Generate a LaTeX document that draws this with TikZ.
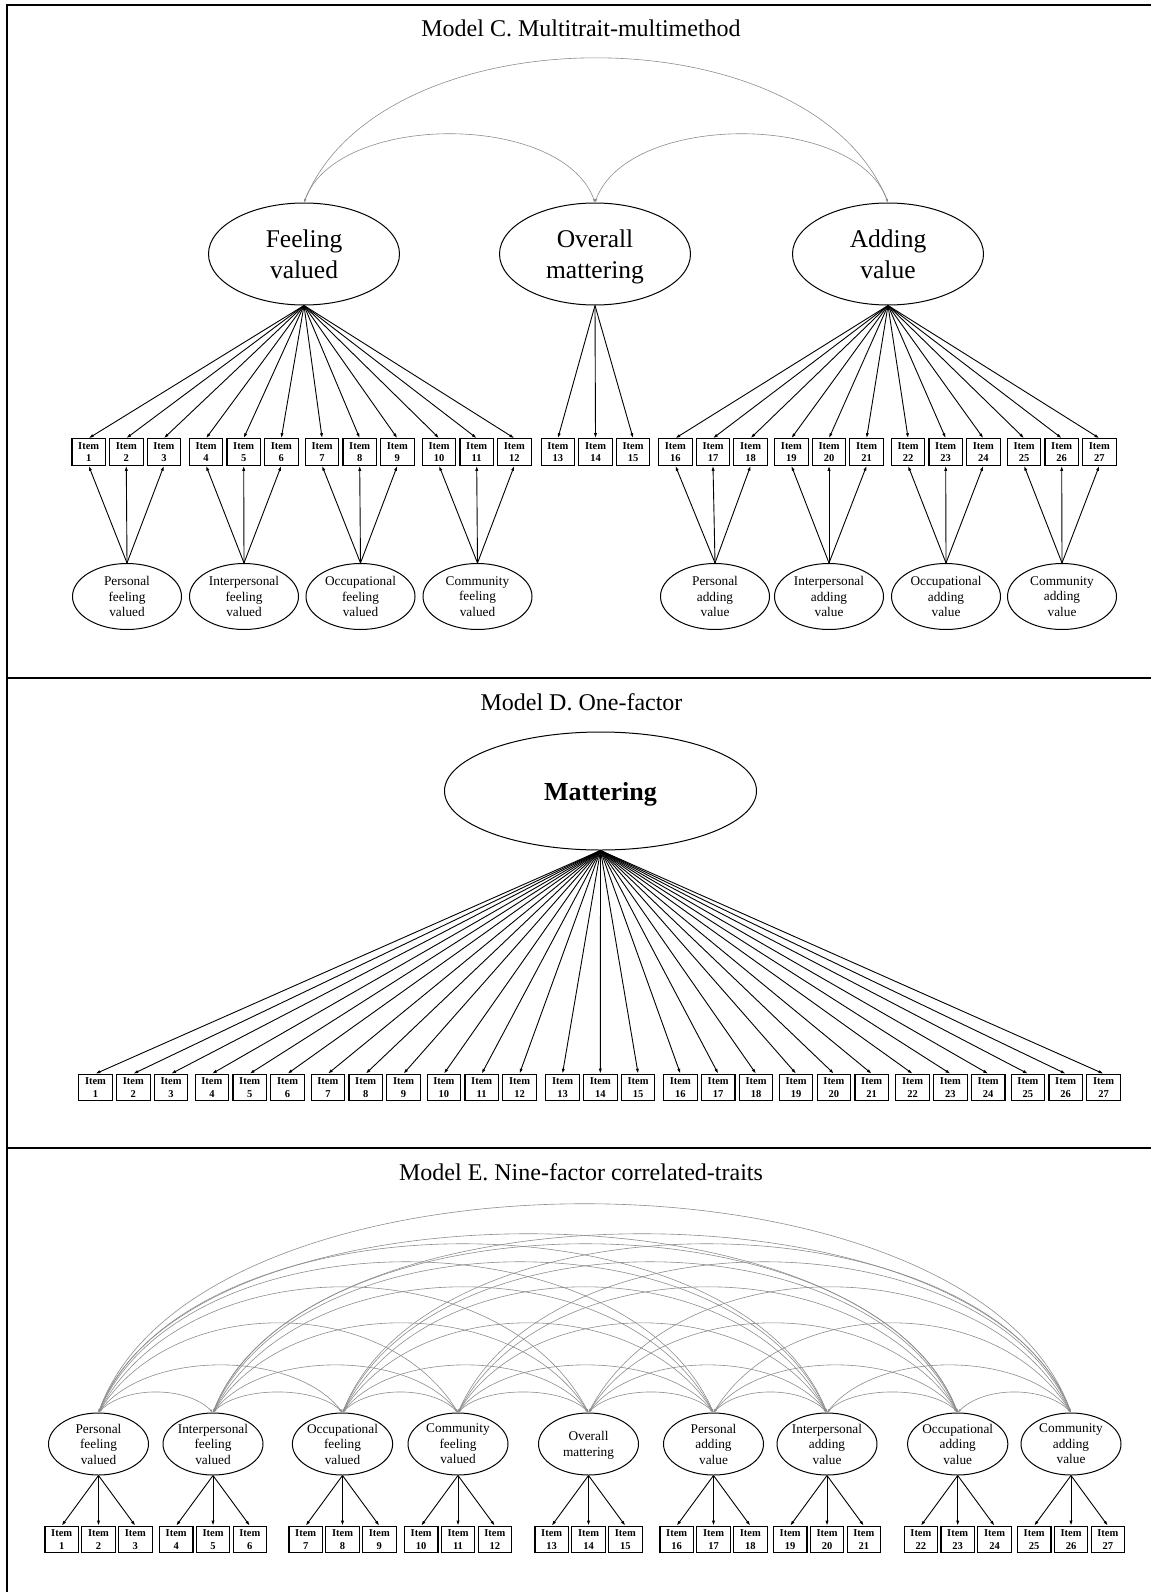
\documentclass[tikz,border=0pt]{standalone}
\usepackage{fontspec}
\setmainfont{Liberation Serif}
\usetikzlibrary{shapes.geometric,arrows.meta}
\definecolor{covgray}{RGB}{140,140,140}
\tikzset{
  itembox/.style={draw,line width=1.1pt,minimum width=33.5pt,minimum height=26.5pt,inner sep=0pt,align=center,font=\fontsize{10.5}{12.3}\selectfont\bfseries},
  latent/.style={draw,ellipse,line width=1pt,inner sep=0pt,align=center,text depth=0pt},
  bigfont/.style={font=\fontsize{25.5}{31}\selectfont},
  smallfont/.style={font=\fontsize{13.3}{15.5}\selectfont},
  load/.style={line width=0.9pt,-{Latex[length=5pt,width=3.2pt]}},
  cov/.style={line width=0.6pt,draw=covgray,{Latex[length=3.5pt,width=2.4pt]}-{Latex[length=3.5pt,width=2.4pt]}},
  frameline/.style={line width=2pt},
  ttl/.style={anchor=base,font=\fontsize{24}{28}\selectfont},
}
\begin{document}
\begin{tikzpicture}[x=1pt,y=-1pt]
\useasboundingbox (0,0) rectangle (1151,1592);
% frame
\draw[frameline] (6.7,1592) -- (6.7,5) -- (1151,5);
\draw[frameline] (6.7,677.7) -- (1151,677.7);
\draw[frameline] (6.7,1148.3) -- (1151,1148.3);

% ---------------- Model C ----------------
\node[ttl] (tC) at (581,36.5) {Model C. Multitrait-multimethod};
\node[latent,bigfont,minimum width=191pt,minimum height=102pt] (cFV) at (304,254) {Feeling\\valued};
\node[latent,bigfont,minimum width=191pt,minimum height=102pt] (cOM) at (595,254) {Overall\\mattering};
\node[latent,bigfont,minimum width=191pt,minimum height=102pt] (cAV) at (888,254) {Adding\\value};

\foreach \g/\gx in {0/126.3,1/243.7,2/359.7,3/476.7,4/595.5,5/713,6/829,7/945.7,8/1061.7}{
  \foreach \k in {0,1,2}{
    \pgfmathtruncatemacro\itn{3*\g+\k+1}
    \node[itembox] (c\itn) at (\gx+37.6*\k-37.6,452) {Item\\\itn};
  }
}
\node[latent,smallfont,minimum width=109pt,minimum height=66pt] (cs1) at (127,596.5) {Personal\\feeling\\valued};
\node[latent,smallfont,minimum width=109pt,minimum height=66pt] (cs2) at (244,596.5) {Interpersonal\\feeling\\valued};
\node[latent,smallfont,minimum width=109pt,minimum height=66pt] (cs3) at (360.5,596.5) {Occupational\\feeling\\valued};
\node[latent,smallfont,minimum width=109pt,minimum height=66pt] (cs4) at (477.5,596.5) {Community\\feeling\\valued};
\node[latent,smallfont,minimum width=109pt,minimum height=66pt] (cs5) at (715,596.5) {Personal\\adding\\value};
\node[latent,smallfont,minimum width=109pt,minimum height=66pt] (cs6) at (829,596.5) {Interpersonal\\adding\\value};
\node[latent,smallfont,minimum width=109pt,minimum height=66pt] (cs7) at (946,596.5) {Occupational\\adding\\value};
\node[latent,smallfont,minimum width=109pt,minimum height=66pt] (cs8) at (1062,596.5) {Community\\adding\\value};

\foreach \n in {1,...,12} \draw[load] (cFV.south) -- (c\n.north);
\foreach \n in {13,14,15} \draw[load] (cOM.south) -- (c\n.north);
\foreach \n in {16,...,27} \draw[load] (cAV.south) -- (c\n.north);
\foreach \s/\g in {cs1/0,cs2/1,cs3/2,cs4/3,cs5/5,cs6/6,cs7/7,cs8/8}{
  \foreach \k in {1,2,3}{
    \pgfmathtruncatemacro\itn{3*\g+\k}
    \draw[load] (\s.north) -- (c\itn.south);
  }
}
\draw[cov] (cFV.north) .. controls +(70:96.5pt) and +(110:96.5pt) .. (cOM.north);
\draw[cov] (cOM.north) .. controls +(70:96.5pt) and +(110:96.5pt) .. (cAV.north);
\draw[cov] (cFV.north) .. controls +(68:207pt) and +(112:207pt) .. (cAV.north);

% ---------------- Model D ----------------
\node[ttl] (tD) at (581.5,710.5) {Model D. One-factor};
\node[latent,font=\fontsize{26}{30}\selectfont\bfseries,minimum width=312pt,minimum height=118pt] (dM) at (600.5,791) {Mattering};
\foreach \g/\gx in {0/133.3,1/249.7,2/365.7,3/481.7,4/600.3,5/718.2,6/833.9,7/950.4,8/1065.7}{
  \foreach \k in {0,1,2}{
    \pgfmathtruncatemacro\itn{3*\g+\k+1}
    \node[itembox] (d\itn) at (\gx+37.8*\k-37.8,1087.5) {Item\\\itn};
  }
}
\foreach \n in {1,...,27} \draw[load] (dM.south) -- (d\n.north);

% ---------------- Model E ----------------
\node[ttl] (tE) at (581,1180) {Model E. Nine-factor correlated-traits};
\foreach \g/\gx in {0/98.5,1/213,2/342.5,3/458,4/588.5,5/713.5,6/827,7/957.7,8/1071}{
  \foreach \k in {0,1,2}{
    \pgfmathtruncatemacro\itn{3*\g+\k+1}
    \node[itembox] (e\itn) at (\gx+36.8*\k-36.8,1539.5) {Item\\\itn};
  }
}
\node[latent,smallfont,minimum width=100pt,minimum height=62pt] (ee1) at (98.5,1444) {Personal\\feeling\\valued};
\node[latent,smallfont,minimum width=100pt,minimum height=62pt] (ee2) at (213,1444) {Interpersonal\\feeling\\valued};
\node[latent,smallfont,minimum width=100pt,minimum height=62pt] (ee3) at (342.5,1444) {Occupational\\feeling\\valued};
\node[latent,smallfont,minimum width=100pt,minimum height=62pt] (ee4) at (458,1444) {Community\\feeling\\valued};
\node[latent,smallfont,minimum width=100pt,minimum height=62pt] (ee5) at (588.5,1444) {Overall\\mattering};
\node[latent,smallfont,minimum width=100pt,minimum height=62pt] (ee6) at (713.5,1444) {Personal\\adding\\value};
\node[latent,smallfont,minimum width=100pt,minimum height=62pt] (ee7) at (827,1444) {Interpersonal\\adding\\value};
\node[latent,smallfont,minimum width=100pt,minimum height=62pt] (ee8) at (957.7,1444) {Occupational\\adding\\value};
\node[latent,smallfont,minimum width=100pt,minimum height=62pt] (ee9) at (1071,1444) {Community\\adding\\value};
\foreach \g in {1,...,9}{
  \foreach \k in {1,2,3}{
    \pgfmathtruncatemacro\itn{3*\g-3+\k}
    \draw[load] (ee\g.south) -- (e\itn.north);
  }
}
\foreach \i in {1,...,8}{
  \foreach \j in {2,...,9}{
    \ifnum\j>\i\relax
      \pgfmathtruncatemacro\covk{\j-\i}
      \ifcase\covk\relax
      \or \def\covrise{20}\def\covang{45}%
      \or \def\covrise{47}\def\covang{52}%
      \or \def\covrise{89}\def\covang{58}%
      \or \def\covrise{125}\def\covang{62}%
      \or \def\covrise{150}\def\covang{66}%
      \or \def\covrise{168}\def\covang{68}%
      \or \def\covrise{178}\def\covang{69}%
      \or \def\covrise{208}\def\covang{70}%
      \fi
      \pgfmathsetmacro\covlen{\covrise/(0.75*sin(\covang))}
      \pgfmathsetmacro\covangb{180-\covang}
      \draw[cov] (ee\i.north) .. controls +(\covang:\covlen pt) and +(\covangb:\covlen pt) .. (ee\j.north);
    \fi
  }
}
\end{tikzpicture}
\end{document}
